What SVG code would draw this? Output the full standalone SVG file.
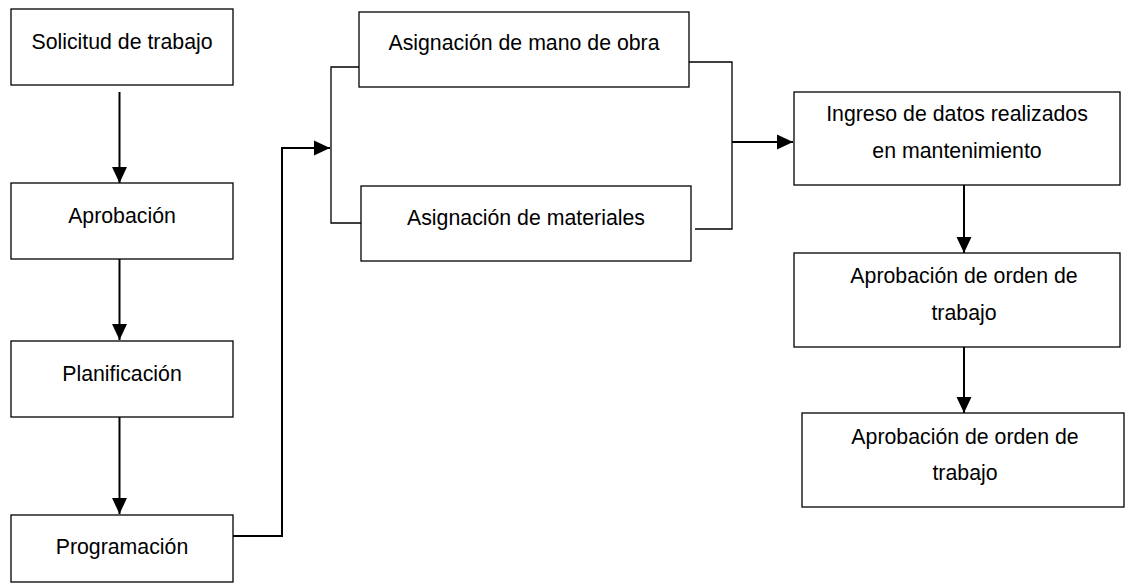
<svg xmlns="http://www.w3.org/2000/svg" width="1125" height="588" viewBox="0 0 1125 588">
<style>
.box{fill:#fff;stroke:#000;stroke-width:1.3}
.t{font-family:"Liberation Sans",Arial,sans-serif;font-size:21.3px;fill:#000;text-anchor:middle}
.c{fill:none;stroke:#000;stroke-width:2}
.b{fill:none;stroke:#000;stroke-width:1.3}
</style>
<defs>
<marker id="ah" markerUnits="userSpaceOnUse" markerWidth="16" markerHeight="16" viewBox="0 0 15 14" refX="15" refY="7" orient="auto">
<path d="M0,0 L15,7 L0,14 Z" fill="#000"/>
</marker>
</defs>
<rect width="1125" height="588" fill="#fff"/>
<g id="connectors">
<line class="c" x1="119.5" y1="92" x2="119.5" y2="183" marker-end="url(#ah)"/>
<line class="c" x1="119.5" y1="259" x2="119.5" y2="340" marker-end="url(#ah)"/>
<line class="c" x1="119.5" y1="417" x2="119.5" y2="514" marker-end="url(#ah)"/>
<polyline class="c" points="233,536 282,536 282,148 330,148" marker-end="url(#ah)"/>
<polyline class="b" points="359,67 331,67 331,223 361,223"/>
<polyline class="b" points="689,62 732,62 732,229 695,229"/>
<line class="c" x1="732" y1="142" x2="793" y2="142" marker-end="url(#ah)"/>
<line class="c" x1="964" y1="185" x2="964" y2="253" marker-end="url(#ah)"/>
<line class="c" x1="964" y1="347" x2="964" y2="413" marker-end="url(#ah)"/>
</g>
<g id="n1"><rect class="box" x="11" y="9" width="222" height="76"/><text class="t" x="122" y="49">Solicitud de trabajo</text></g>
<g id="n2"><rect class="box" x="11" y="183" width="222" height="76"/><text class="t" x="122" y="223">Aprobación</text></g>
<g id="n3"><rect class="box" x="11" y="341" width="222" height="76"/><text class="t" x="122" y="381">Planificación</text></g>
<g id="n4"><rect class="box" x="11" y="515" width="222" height="67"/><text class="t" x="122" y="554">Programación</text></g>
<g id="n5"><rect class="box" x="359" y="12" width="330" height="75"/><text class="t" x="524" y="50">Asignación de mano de obra</text></g>
<g id="n6"><rect class="box" x="361" y="186" width="330" height="75"/><text class="t" x="526" y="225">Asignación de materiales</text></g>
<g id="n7"><rect class="box" x="794" y="92" width="326" height="93"/><text class="t" x="957" y="121">Ingreso de datos realizados</text><text class="t" x="957" y="158">en mantenimiento</text></g>
<g id="n8"><rect class="box" x="794" y="253" width="326" height="94"/><text class="t" x="964" y="283">Aprobación de orden de</text><text class="t" x="964" y="320">trabajo</text></g>
<g id="n9"><rect class="box" x="802" y="413" width="322" height="94"/><text class="t" x="965" y="444">Aprobación de orden de</text><text class="t" x="965" y="480">trabajo</text></g>
</svg>
